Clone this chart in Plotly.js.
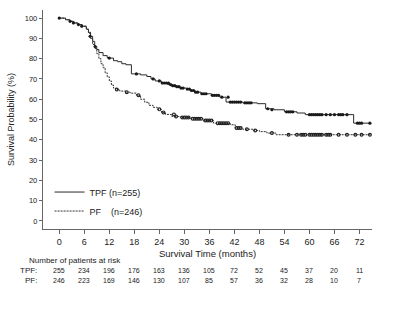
<!DOCTYPE html>
<html>
<head>
<meta charset="utf-8">
<script src="https://cdn.plot.ly/plotly-3.0.1.min.js"></script>
<style>html,body{margin:0;padding:0;background:#fff;}#chart{width:400px;height:309px;}</style>
</head>
<body>
<div id="chart"></div>
<script>
// Kaplan-Meier step data (months, survival %)
const tpfTime = [0, 1.5, 2.5, 3.5, 4.5, 5.5, 6.5, 7, 7.5, 8, 8.5, 9, 9.5, 10.5, 11.5, 13, 14, 15, 16, 17.3, 19.5, 21, 22, 23, 24.5, 26, 27, 28, 29, 30.5, 31.5, 32.5, 34, 36.5, 38.5, 40, 44, 47.5, 49.5, 51.5, 54, 57, 59, 70.6, 74.6];
const tpfSurv = [100, 99.2, 98.4, 97.6, 96.8, 96, 94.5, 93, 91, 88.5, 86, 84.5, 83, 81.5, 80.3, 79, 78.5, 77.5, 77, 72.5, 72, 71.2, 70, 69, 68, 67.2, 66.7, 66.2, 65.5, 65, 64.3, 63.5, 62.7, 61.9, 61, 58.6, 58.2, 57.8, 55.3, 54.8, 53.8, 53.2, 52.4, 48.2, 48.2];
const pfTime = [0, 1.5, 2.5, 3.5, 4.5, 5.5, 6.5, 7, 7.5, 8, 8.5, 9, 9.5, 10, 10.5, 11, 11.5, 12, 12.5, 13, 13.5, 14.5, 16, 17, 18.5, 19.5, 20.5, 21.5, 22.5, 23.5, 24.5, 25.5, 27, 29, 31.5, 34.5, 37, 41, 42.2, 44, 46.5, 48, 49.8, 52, 74.6];
const pfSurv = [100, 99.2, 98.4, 97.6, 96.8, 96, 94.5, 92.5, 90, 87, 85, 82.5, 80, 77.5, 75.5, 73, 71, 69, 67, 65.5, 64.8, 64, 63.5, 63, 62, 60, 58.5, 57, 56, 55, 53.5, 52.5, 51.5, 51, 50.4, 49.5, 48.2, 47.4, 45.8, 45.2, 44.6, 44, 43.3, 42.5, 42.5];

// Censoring marks
const tpfCensTime = [0, 2.6, 3.4, 4.6, 5.4, 7.4, 8.6, 12, 18.5, 22.5, 24, 24.7, 25.2, 25.7, 26.2, 26.7, 27.2, 27.7, 28.2, 28.7, 29.2, 29.7, 30.7, 31.2, 31.7, 32.2, 32.7, 33.2, 34.2, 34.7, 35.2, 36.7, 37.2, 37.7, 38.2, 39, 40.5, 41, 41.5, 42, 42.5, 43, 43.5, 44.5, 45, 45.5, 46, 50, 51, 54.5, 55, 55.5, 56, 60, 60.5, 61, 61.5, 62, 62.5, 63, 64, 65, 66, 67, 67.5, 68, 69, 71.5, 72, 72.5, 74.5];
const tpfCensSurv = [100, 98.4, 97.6, 96.8, 96, 91, 86, 80.3, 72.5, 70, 69, 68, 68, 68, 68, 67.2, 66.7, 66.7, 66.2, 66.2, 65.5, 65.5, 65, 65, 64.3, 64.3, 63.5, 63.5, 62.7, 62.7, 62.7, 61.9, 61.9, 61.9, 61.9, 61, 61, 58.6, 58.6, 58.6, 58.6, 58.6, 58.6, 58.2, 58.2, 58.2, 58.2, 55.3, 54.8, 53.8, 53.8, 53.8, 53.8, 52.4, 52.4, 52.4, 52.4, 52.4, 52.4, 52.4, 52.4, 52.4, 52.4, 52.4, 52.4, 52.4, 52.4, 48.2, 48.2, 48.2, 48.2];
const pfCensTime = [13.8, 16.2, 19, 24, 25, 27.5, 28, 29.5, 30, 30.5, 31, 32, 32.5, 33, 33.5, 34, 35, 35.5, 36, 36.5, 38, 38.5, 39, 39.5, 40, 40.5, 42.5, 43, 43.5, 45, 47, 51, 55, 57, 58, 58.5, 59, 60, 60.5, 61, 61.5, 62, 62.5, 63, 64, 64.5, 65, 67, 69, 71, 72.5, 74.5];
const pfCensSurv = [64.8, 63.5, 62, 55, 53.5, 52.5, 51.5, 51, 51, 51, 51, 50.4, 50.4, 50.4, 50.4, 50.4, 49.5, 49.5, 49.5, 49.5, 48.2, 48.2, 48.2, 48.2, 48.2, 48.2, 45.8, 45.8, 45.8, 45.2, 44.6, 43.3, 42.5, 42.5, 42.5, 42.5, 42.5, 42.5, 42.5, 42.5, 42.5, 42.5, 42.5, 42.5, 42.5, 42.5, 42.5, 42.5, 42.5, 42.5, 42.5, 42.5];

// Axis ticks and number at risk
const xTicks = [0, 6, 12, 18, 24, 30, 36, 42, 48, 54, 60, 66, 72];
const yTicks = [0, 10, 20, 30, 40, 50, 60, 70, 80, 90, 100];
const riskTPF = [255, 234, 196, 176, 163, 136, 105, 72, 52, 45, 37, 20, 11];
const riskPF = [246, 223, 169, 146, 130, 107, 85, 57, 36, 32, 28, 10, 7];
const seriesNames = ['TPF (n=255)', 'PF&nbsp;&nbsp;&nbsp;&nbsp;(n=246)'];

const FONT = 'Liberation Sans, Arial, sans-serif';

const traces = [
  {x: tpfTime, y: tpfSurv, type: 'scatter', mode: 'lines', line: {shape: 'hv', color: '#2a2a2a', width: 1}, name: seriesNames[0]},
  {x: pfTime, y: pfSurv, type: 'scatter', mode: 'lines', line: {shape: 'hv', color: '#333', width: 1, dash: '2px,1px'}, name: seriesNames[1]},
  {x: tpfCensTime, y: tpfCensSurv, type: 'scatter', mode: 'markers', marker: {symbol: 'circle', size: 3.2, color: '#1a1a1a'}, showlegend: false, hoverinfo: 'skip'},
  {x: pfCensTime, y: pfCensSurv, type: 'scatter', mode: 'markers', marker: {symbol: 'circle-open', size: 2.8, color: '#222', line: {width: 1.2, color: '#222'}}, showlegend: false, hoverinfo: 'skip'}
];

const annotations = [];
annotations.push({xref: 'paper', yref: 'paper', x: -0.05, y: -0.145, xanchor: 'left', yanchor: 'middle', text: 'Number of patients at risk', showarrow: false, font: {family: FONT, size: 8, color: '#222'}});
annotations.push({xref: 'paper', yref: 'paper', x: -0.011, y: -0.188, xanchor: 'right', yanchor: 'middle', text: 'TPF:', showarrow: false, font: {family: FONT, size: 8, color: '#222'}});
annotations.push({xref: 'paper', yref: 'paper', x: -0.011, y: -0.233, xanchor: 'right', yanchor: 'middle', text: 'PF:', showarrow: false, font: {family: FONT, size: 8, color: '#222'}});
xTicks.forEach((t, i) => {
  annotations.push({xref: 'x', yref: 'paper', x: t, y: -0.188, xanchor: 'center', yanchor: 'middle', text: String(riskTPF[i]), showarrow: false, font: {family: FONT, size: 7, color: '#222'}});
  annotations.push({xref: 'x', yref: 'paper', x: t, y: -0.233, xanchor: 'center', yanchor: 'middle', text: String(riskPF[i]), showarrow: false, font: {family: FONT, size: 7, color: '#222'}});
});

const layout = {
  width: 400, height: 309,
  margin: {l: 43, r: 28, t: 10, b: 80, pad: 0},
  paper_bgcolor: '#fff', plot_bgcolor: '#fff',
  font: {family: FONT, size: 9, color: '#222'},
  showlegend: true,
  legend: {x: 0.02, y: 0.235, xanchor: 'left', yanchor: 'top', bgcolor: 'rgba(0,0,0,0)', font: {family: FONT, size: 9, color: '#222'}, tracegroupgap: 0, itemwidth: 30},
  xaxis: {
    range: [-3.9, 75], tickmode: 'array', tickvals: xTicks, ticktext: xTicks.map(String),
    showgrid: false, zeroline: false, showline: true, linecolor: '#666', linewidth: 1.2,
    ticks: 'outside', ticklen: 4, tickcolor: '#666', tickwidth: 1,
    tickfont: {family: FONT, size: 9, color: '#222'},
    title: {text: 'Survival Time (months)', font: {family: FONT, size: 9.5, color: '#222'}, standoff: 4}
  },
  yaxis: {
    range: [-4, 104], tickmode: 'array', tickvals: yTicks, ticktext: yTicks.map(String),
    showgrid: false, zeroline: false, showline: true, linecolor: '#666', linewidth: 1.2,
    ticks: 'outside', ticklen: 3, tickcolor: '#666', tickwidth: 1,
    tickfont: {family: FONT, size: 7.5, color: '#222'},
    title: {text: 'Survival Probability (%)', font: {family: FONT, size: 9, color: '#222'}, standoff: 8}
  },
  annotations: annotations
};

Plotly.newPlot('chart', traces, layout, {displayModeBar: false, staticPlot: true});
</script>
</body>
</html>
